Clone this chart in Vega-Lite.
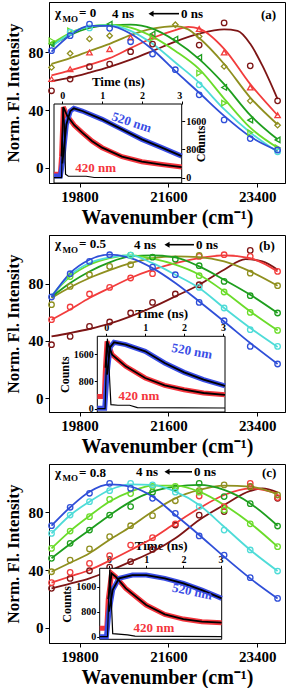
{
"$schema": "https://vega.github.io/schema/vega-lite/v6.json",
"padding": {"left": 3, "top": 1, "right": 1, "bottom": 0},
"background": "white",
"spacing": 6,
"resolve": {"scale": {"x": "independent", "y": "independent", "color": "independent", "shape": "independent"}},
"config": {
  "view": {"stroke": "black", "strokeWidth": 1},
  "axis": {"labelFont": "Liberation Serif", "titleFont": "Liberation Serif", "labelFontWeight": "bold", "titleFontWeight": "bold", "labelColor": "black", "titleColor": "black", "domainColor": "black", "tickColor": "black", "grid": false},
  "text": {"font": "Liberation Serif", "fontWeight": "bold"}
},
"datasets": {
"lines": [
{"p":"a","s":"s1","w":19231,"v":60},{"p":"a","s":"s1","w":19608,"v":62.5},{"p":"a","s":"s1","w":20000,"v":66},{"p":"a","s":"s1","w":20408,"v":70},{"p":"a","s":"s1","w":20833,"v":75},{"p":"a","s":"s1","w":21277,"v":81},{"p":"a","s":"s1","w":21739,"v":87.5},{"p":"a","s":"s1","w":22222,"v":93},{"p":"a","s":"s1","w":22727,"v":96},{"p":"a","s":"s1","w":23000,"v":95},{"p":"a","s":"s1","w":23256,"v":86},{"p":"a","s":"s1","w":23500,"v":71},{"p":"a","s":"s1","w":23810,"v":47.6},
{"p":"a","s":"s2","w":19231,"v":64},{"p":"a","s":"s2","w":19608,"v":67.5},{"p":"a","s":"s2","w":20000,"v":71.5},{"p":"a","s":"s2","w":20408,"v":76},{"p":"a","s":"s2","w":20833,"v":83},{"p":"a","s":"s2","w":21277,"v":90},{"p":"a","s":"s2","w":21739,"v":95.5},{"p":"a","s":"s2","w":22000,"v":97.8},{"p":"a","s":"s2","w":22222,"v":96.5},{"p":"a","s":"s2","w":22727,"v":82.5},{"p":"a","s":"s2","w":23256,"v":58},{"p":"a","s":"s2","w":23810,"v":36.4},
{"p":"a","s":"s3","w":19231,"v":72},{"p":"a","s":"s3","w":19608,"v":76},{"p":"a","s":"s3","w":20000,"v":81},{"p":"a","s":"s3","w":20408,"v":86},{"p":"a","s":"s3","w":20833,"v":92},{"p":"a","s":"s3","w":21277,"v":96.5},{"p":"a","s":"s3","w":21739,"v":98.3},{"p":"a","s":"s3","w":22000,"v":96},{"p":"a","s":"s3","w":22222,"v":90},{"p":"a","s":"s3","w":22727,"v":72},{"p":"a","s":"s3","w":23256,"v":48.7},{"p":"a","s":"s3","w":23810,"v":30},
{"p":"a","s":"s4","w":19231,"v":85},{"p":"a","s":"s4","w":19608,"v":92},{"p":"a","s":"s4","w":20000,"v":97},{"p":"a","s":"s4","w":20408,"v":99},{"p":"a","s":"s4","w":20833,"v":99.3},{"p":"a","s":"s4","w":21277,"v":96.5},{"p":"a","s":"s4","w":21739,"v":88},{"p":"a","s":"s4","w":22222,"v":75.4},{"p":"a","s":"s4","w":22727,"v":58},{"p":"a","s":"s4","w":23256,"v":36.5},{"p":"a","s":"s4","w":23810,"v":19.7},
{"p":"a","s":"s5","w":19231,"v":86},{"p":"a","s":"s5","w":19608,"v":93.5},{"p":"a","s":"s5","w":20000,"v":98},{"p":"a","s":"s5","w":20408,"v":99.3},{"p":"a","s":"s5","w":20833,"v":97.3},{"p":"a","s":"s5","w":21277,"v":91},{"p":"a","s":"s5","w":21739,"v":81},{"p":"a","s":"s5","w":22222,"v":68.4},{"p":"a","s":"s5","w":22727,"v":48},{"p":"a","s":"s5","w":23256,"v":27.8},{"p":"a","s":"s5","w":23810,"v":13.9},
{"p":"a","s":"s6","w":19231,"v":84},{"p":"a","s":"s6","w":19608,"v":93},{"p":"a","s":"s6","w":20000,"v":98},{"p":"a","s":"s6","w":20408,"v":99},{"p":"a","s":"s6","w":20833,"v":95},{"p":"a","s":"s6","w":21277,"v":86},{"p":"a","s":"s6","w":21739,"v":73},{"p":"a","s":"s6","w":22222,"v":59},{"p":"a","s":"s6","w":22727,"v":40.6},{"p":"a","s":"s6","w":23256,"v":24.4},{"p":"a","s":"s6","w":23810,"v":10.9},
{"p":"a","s":"s7","w":19231,"v":80.5},{"p":"a","s":"s7","w":19608,"v":92},{"p":"a","s":"s7","w":20000,"v":98.5},{"p":"a","s":"s7","w":20408,"v":98.5},{"p":"a","s":"s7","w":20833,"v":93},{"p":"a","s":"s7","w":21277,"v":82},{"p":"a","s":"s7","w":21739,"v":67},{"p":"a","s":"s7","w":22222,"v":52},{"p":"a","s":"s7","w":22727,"v":36},{"p":"a","s":"s7","w":23256,"v":21.6},{"p":"a","s":"s7","w":23810,"v":11.9},

{"p":"b","s":"s1","w":19231,"v":43.1},{"p":"b","s":"s1","w":19608,"v":45.5},{"p":"b","s":"s1","w":20000,"v":48.3},{"p":"b","s":"s1","w":20408,"v":52},{"p":"b","s":"s1","w":20833,"v":57.1},{"p":"b","s":"s1","w":21277,"v":63.5},{"p":"b","s":"s1","w":21739,"v":71.1},{"p":"b","s":"s1","w":22222,"v":79.3},{"p":"b","s":"s1","w":22727,"v":89.8},{"p":"b","s":"s1","w":23163,"v":97.2},{"p":"b","s":"s1","w":23500,"v":95.6},{"p":"b","s":"s1","w":23810,"v":89.8},
{"p":"b","s":"s2","w":19231,"v":54.8},{"p":"b","s":"s2","w":19608,"v":62},{"p":"b","s":"s2","w":20000,"v":70},{"p":"b","s":"s2","w":20408,"v":77},{"p":"b","s":"s2","w":20833,"v":84},{"p":"b","s":"s2","w":21277,"v":89.8},{"p":"b","s":"s2","w":21739,"v":94.4},{"p":"b","s":"s2","w":22222,"v":97.9},{"p":"b","s":"s2","w":22727,"v":99.8},{"p":"b","s":"s2","w":23256,"v":97.9},{"p":"b","s":"s2","w":23810,"v":88.6},
{"p":"b","s":"s3","w":19231,"v":70},{"p":"b","s":"s3","w":19608,"v":77.5},{"p":"b","s":"s3","w":20000,"v":84},{"p":"b","s":"s3","w":20408,"v":89.5},{"p":"b","s":"s3","w":20833,"v":94.4},{"p":"b","s":"s3","w":21277,"v":97.9},{"p":"b","s":"s3","w":21739,"v":99.1},{"p":"b","s":"s3","w":22222,"v":98.6},{"p":"b","s":"s3","w":22727,"v":95.6},{"p":"b","s":"s3","w":23256,"v":88.6},{"p":"b","s":"s3","w":23810,"v":78.6},
{"p":"b","s":"s4","w":19231,"v":70.7},{"p":"b","s":"s4","w":19608,"v":80.5},{"p":"b","s":"s4","w":20000,"v":88.6},{"p":"b","s":"s4","w":20408,"v":95},{"p":"b","s":"s4","w":20833,"v":99.1},{"p":"b","s":"s4","w":21277,"v":99.8},{"p":"b","s":"s4","w":21739,"v":98.4},{"p":"b","s":"s4","w":22222,"v":92.1},{"p":"b","s":"s4","w":22727,"v":82.8},{"p":"b","s":"s4","w":23256,"v":72.3},{"p":"b","s":"s4","w":23810,"v":59.5},
{"p":"b","s":"s5","w":19231,"v":71.5},{"p":"b","s":"s5","w":19608,"v":85},{"p":"b","s":"s5","w":20000,"v":93.3},{"p":"b","s":"s5","w":20408,"v":98},{"p":"b","s":"s5","w":20833,"v":99.8},{"p":"b","s":"s5","w":21277,"v":97.5},{"p":"b","s":"s5","w":21739,"v":93.3},{"p":"b","s":"s5","w":22222,"v":86.3},{"p":"b","s":"s5","w":22727,"v":74.6},{"p":"b","s":"s5","w":23256,"v":60.6},{"p":"b","s":"s5","w":23810,"v":47.3},
{"p":"b","s":"s6","w":19231,"v":71.5},{"p":"b","s":"s6","w":19608,"v":86},{"p":"b","s":"s6","w":20000,"v":94.5},{"p":"b","s":"s6","w":20408,"v":98.5},{"p":"b","s":"s6","w":20833,"v":99.8},{"p":"b","s":"s6","w":21277,"v":94.4},{"p":"b","s":"s6","w":21739,"v":86.3},{"p":"b","s":"s6","w":22222,"v":77},{"p":"b","s":"s6","w":22727,"v":63},{"p":"b","s":"s6","w":23256,"v":49},{"p":"b","s":"s6","w":23810,"v":35.7},
{"p":"b","s":"s7","w":19231,"v":70.7},{"p":"b","s":"s7","w":19608,"v":87.4},{"p":"b","s":"s7","w":20000,"v":96.8},{"p":"b","s":"s7","w":20408,"v":100.3},{"p":"b","s":"s7","w":20833,"v":97.9},{"p":"b","s":"s7","w":21277,"v":90.9},{"p":"b","s":"s7","w":21739,"v":80.5},{"p":"b","s":"s7","w":22222,"v":67.6},{"p":"b","s":"s7","w":22727,"v":53.6},{"p":"b","s":"s7","w":23256,"v":38.5},{"p":"b","s":"s7","w":23810,"v":23.8},

{"p":"c","s":"s1","w":19231,"v":27.3},{"p":"c","s":"s1","w":19608,"v":30.5},{"p":"c","s":"s1","w":20000,"v":34.2},{"p":"c","s":"s1","w":20408,"v":39.5},{"p":"c","s":"s1","w":20833,"v":45.8},{"p":"c","s":"s1","w":21277,"v":52.7},{"p":"c","s":"s1","w":21739,"v":62},{"p":"c","s":"s1","w":22222,"v":74.7},{"p":"c","s":"s1","w":22727,"v":85.1},{"p":"c","s":"s1","w":23256,"v":94.8},{"p":"c","s":"s1","w":23500,"v":96.6},{"p":"c","s":"s1","w":23810,"v":93.9},
{"p":"c","s":"s2","w":19231,"v":31.2},{"p":"c","s":"s2","w":19608,"v":35.5},{"p":"c","s":"s2","w":20000,"v":40},{"p":"c","s":"s2","w":20408,"v":46.5},{"p":"c","s":"s2","w":20833,"v":53.9},{"p":"c","s":"s2","w":21277,"v":62},{"p":"c","s":"s2","w":21739,"v":72.4},{"p":"c","s":"s2","w":22222,"v":82.8},{"p":"c","s":"s2","w":22727,"v":92},{"p":"c","s":"s2","w":23256,"v":96.6},{"p":"c","s":"s2","w":23810,"v":93.2},
{"p":"c","s":"s3","w":19231,"v":38.8},{"p":"c","s":"s3","w":19608,"v":45},{"p":"c","s":"s3","w":20000,"v":51.6},{"p":"c","s":"s3","w":20408,"v":61},{"p":"c","s":"s3","w":20833,"v":70},{"p":"c","s":"s3","w":21277,"v":80.5},{"p":"c","s":"s3","w":21739,"v":89.7},{"p":"c","s":"s3","w":22222,"v":95.5},{"p":"c","s":"s3","w":22727,"v":98.5},{"p":"c","s":"s3","w":23256,"v":97.8},{"p":"c","s":"s3","w":23810,"v":92.5},
{"p":"c","s":"s4","w":19231,"v":48.1},{"p":"c","s":"s4","w":19608,"v":58},{"p":"c","s":"s4","w":20000,"v":67.7},{"p":"c","s":"s4","w":20408,"v":78},{"p":"c","s":"s4","w":20833,"v":87.4},{"p":"c","s":"s4","w":21277,"v":94.3},{"p":"c","s":"s4","w":21739,"v":97.8},{"p":"c","s":"s4","w":22222,"v":99},{"p":"c","s":"s4","w":22727,"v":95.5},{"p":"c","s":"s4","w":23256,"v":86.2},{"p":"c","s":"s4","w":23810,"v":70.7},
{"p":"c","s":"s5","w":19231,"v":55},{"p":"c","s":"s5","w":19608,"v":67},{"p":"c","s":"s5","w":20000,"v":77.5},{"p":"c","s":"s5","w":20408,"v":87.5},{"p":"c","s":"s5","w":20833,"v":94.3},{"p":"c","s":"s5","w":21277,"v":98.5},{"p":"c","s":"s5","w":21739,"v":98.5},{"p":"c","s":"s5","w":22222,"v":94.3},{"p":"c","s":"s5","w":22727,"v":85.1},{"p":"c","s":"s5","w":23256,"v":72.4},{"p":"c","s":"s5","w":23810,"v":56.2},
{"p":"c","s":"s6","w":19231,"v":65.4},{"p":"c","s":"s6","w":19608,"v":78},{"p":"c","s":"s6","w":20000,"v":87.4},{"p":"c","s":"s6","w":20408,"v":95.5},{"p":"c","s":"s6","w":20833,"v":99.4},{"p":"c","s":"s6","w":21277,"v":99},{"p":"c","s":"s6","w":21739,"v":94.3},{"p":"c","s":"s6","w":22222,"v":85.1},{"p":"c","s":"s6","w":22727,"v":70},{"p":"c","s":"s6","w":23256,"v":53.9},{"p":"c","s":"s6","w":23810,"v":39.3},
{"p":"c","s":"s7","w":19231,"v":70.7},{"p":"c","s":"s7","w":19608,"v":83.5},{"p":"c","s":"s7","w":20000,"v":94.3},{"p":"c","s":"s7","w":20408,"v":99.4},{"p":"c","s":"s7","w":20833,"v":97.8},{"p":"c","s":"s7","w":21277,"v":90.9},{"p":"c","s":"s7","w":21739,"v":78.1},{"p":"c","s":"s7","w":22222,"v":64.3},{"p":"c","s":"s7","w":22727,"v":49.2},{"p":"c","s":"s7","w":23256,"v":34.2},{"p":"c","s":"s7","w":23810,"v":20.3}
],
"pts": [
{"p":"a","s":"s1","w":19231,"v":53.4},{"p":"a","s":"s1","w":19608,"v":61.5},{"p":"a","s":"s1","w":20000,"v":70.1},{"p":"a","s":"s1","w":20408,"v":71.9},{"p":"a","s":"s1","w":20833,"v":80.5},{"p":"a","s":"s1","w":21277,"v":85.8},{"p":"a","s":"s1","w":22222,"v":85.1},{"p":"a","s":"s1","w":22727,"v":100.5},{"p":"a","s":"s1","w":23256,"v":70.7},{"p":"a","s":"s1","w":23810,"v":46.4},
{"p":"a","s":"s2","w":19231,"v":61.5},{"p":"a","s":"s2","w":19608,"v":68.4},{"p":"a","s":"s2","w":20000,"v":80},{"p":"a","s":"s2","w":20408,"v":82.3},{"p":"a","s":"s2","w":20833,"v":90.4},{"p":"a","s":"s2","w":21277,"v":91},{"p":"a","s":"s2","w":22222,"v":96.3},{"p":"a","s":"s2","w":22727,"v":80},{"p":"a","s":"s2","w":23256,"v":55.7},{"p":"a","s":"s2","w":23810,"v":36.4},
{"p":"a","s":"s3","w":19231,"v":69.6},{"p":"a","s":"s3","w":19608,"v":79.3},{"p":"a","s":"s3","w":20000,"v":89.4},{"p":"a","s":"s3","w":20408,"v":91.6},{"p":"a","s":"s3","w":21739,"v":99.2},{"p":"a","s":"s3","w":22222,"v":91.1},{"p":"a","s":"s3","w":22727,"v":70.3},{"p":"a","s":"s3","w":23256,"v":46.4},{"p":"a","s":"s3","w":23810,"v":29.5},
{"p":"a","s":"s4","w":19231,"v":86},{"p":"a","s":"s4","w":20408,"v":99.7},{"p":"a","s":"s4","w":21277,"v":92.8},{"p":"a","s":"s4","w":21739,"v":89.3},{"p":"a","s":"s4","w":22222,"v":76.5},{"p":"a","s":"s4","w":22727,"v":55.7},{"p":"a","s":"s4","w":23256,"v":33},{"p":"a","s":"s4","w":23810,"v":19.3},
{"p":"a","s":"s5","w":19231,"v":88.1},{"p":"a","s":"s5","w":19608,"v":95},{"p":"a","s":"s5","w":21277,"v":90},{"p":"a","s":"s5","w":22222,"v":65.7},{"p":"a","s":"s5","w":22727,"v":44.8},{"p":"a","s":"s5","w":23256,"v":24.4},{"p":"a","s":"s5","w":23810,"v":13.9},
{"p":"a","s":"s6","w":19608,"v":94},{"p":"a","s":"s6","w":20000,"v":97},{"p":"a","s":"s6","w":22222,"v":57.5},{"p":"a","s":"s6","w":23810,"v":11},
{"p":"a","s":"s7","w":19231,"v":81.2},{"p":"a","s":"s7","w":19608,"v":91.6},{"p":"a","s":"s7","w":20000,"v":99.7},{"p":"a","s":"s7","w":20408,"v":96.7},{"p":"a","s":"s7","w":20833,"v":87.4},{"p":"a","s":"s7","w":21277,"v":78.9},{"p":"a","s":"s7","w":21739,"v":68},{"p":"a","s":"s7","w":22222,"v":50.6},{"p":"a","s":"s7","w":22727,"v":33.2},{"p":"a","s":"s7","w":23256,"v":20.2},{"p":"a","s":"s7","w":23810,"v":12.3},

{"p":"b","s":"s1","w":19231,"v":37.3},{"p":"b","s":"s1","w":19608,"v":43.1},{"p":"b","s":"s1","w":20000,"v":50.1},{"p":"b","s":"s1","w":20408,"v":53.2},{"p":"b","s":"s1","w":20833,"v":59.5},{"p":"b","s":"s1","w":21277,"v":66.9},{"p":"b","s":"s1","w":21739,"v":72.8},{"p":"b","s":"s1","w":22222,"v":79.3},{"p":"b","s":"s1","w":23256,"v":103.3},
{"p":"b","s":"s2","w":19231,"v":54.8},{"p":"b","s":"s2","w":19608,"v":63.7},{"p":"b","s":"s2","w":20000,"v":72.8},{"p":"b","s":"s2","w":20408,"v":77.4},{"p":"b","s":"s2","w":20833,"v":84},{"p":"b","s":"s2","w":21277,"v":87},{"p":"b","s":"s2","w":22222,"v":99.1},{"p":"b","s":"s2","w":22727,"v":100.3},{"p":"b","s":"s2","w":23256,"v":99.1},{"p":"b","s":"s2","w":23810,"v":88.6},
{"p":"b","s":"s3","w":19231,"v":65.3},{"p":"b","s":"s3","w":19608,"v":78.1},{"p":"b","s":"s3","w":20000,"v":86.3},{"p":"b","s":"s3","w":20408,"v":92.1},{"p":"b","s":"s3","w":20833,"v":93.3},{"p":"b","s":"s3","w":22222,"v":99.8},{"p":"b","s":"s3","w":23256,"v":87.4},{"p":"b","s":"s3","w":23810,"v":78.6},
{"p":"b","s":"s4","w":21277,"v":98.6},{"p":"b","s":"s4","w":21739,"v":97.2},{"p":"b","s":"s4","w":22222,"v":92.6},{"p":"b","s":"s4","w":22727,"v":81.6},{"p":"b","s":"s4","w":23256,"v":71.6},{"p":"b","s":"s4","w":23810,"v":59.5},
{"p":"b","s":"s5","w":19608,"v":85},{"p":"b","s":"s5","w":20833,"v":100},{"p":"b","s":"s5","w":22222,"v":85.6},{"p":"b","s":"s5","w":22727,"v":74.2},{"p":"b","s":"s5","w":23256,"v":59.9},{"p":"b","s":"s5","w":23810,"v":47.3},
{"p":"b","s":"s6","w":20833,"v":100},{"p":"b","s":"s6","w":22222,"v":77.4},{"p":"b","s":"s6","w":22727,"v":63},{"p":"b","s":"s6","w":23256,"v":47.8},{"p":"b","s":"s6","w":23810,"v":36.1},
{"p":"b","s":"s7","w":19231,"v":70.7},{"p":"b","s":"s7","w":19608,"v":87},{"p":"b","s":"s7","w":20000,"v":95.6},{"p":"b","s":"s7","w":20408,"v":100.3},{"p":"b","s":"s7","w":21277,"v":91.6},{"p":"b","s":"s7","w":21739,"v":86.3},{"p":"b","s":"s7","w":22222,"v":66.9},{"p":"b","s":"s7","w":22727,"v":54.1},{"p":"b","s":"s7","w":23256,"v":36.1},{"p":"b","s":"s7","w":23810,"v":23.8},

{"p":"c","s":"s1","w":19231,"v":27.3},{"p":"c","s":"s1","w":19608,"v":34.2},{"p":"c","s":"s1","w":20000,"v":39.5},{"p":"c","s":"s1","w":20408,"v":42},{"p":"c","s":"s1","w":20833,"v":45.8},{"p":"c","s":"s1","w":21277,"v":54.3},{"p":"c","s":"s1","w":21739,"v":71.2},{"p":"c","s":"s1","w":22222,"v":78},{"p":"c","s":"s1","w":22727,"v":80.5},{"p":"c","s":"s1","w":23256,"v":97.8},{"p":"c","s":"s1","w":23810,"v":89.7},
{"p":"c","s":"s2","w":19231,"v":31.2},{"p":"c","s":"s2","w":19608,"v":38.4},{"p":"c","s":"s2","w":20000,"v":44.6},{"p":"c","s":"s2","w":20408,"v":50},{"p":"c","s":"s2","w":20833,"v":57.3},{"p":"c","s":"s2","w":21277,"v":62.4},{"p":"c","s":"s2","w":21739,"v":72},{"p":"c","s":"s2","w":22222,"v":91.3},{"p":"c","s":"s2","w":22727,"v":84},{"p":"c","s":"s2","w":23256,"v":100.1},{"p":"c","s":"s2","w":23810,"v":90.2},
{"p":"c","s":"s3","w":19231,"v":38.8},{"p":"c","s":"s3","w":19608,"v":46.9},{"p":"c","s":"s3","w":20000,"v":54.6},{"p":"c","s":"s3","w":20408,"v":63.1},{"p":"c","s":"s3","w":20833,"v":70.7},{"p":"c","s":"s3","w":21277,"v":77.7},{"p":"c","s":"s3","w":21739,"v":88},{"p":"c","s":"s3","w":22222,"v":95},{"p":"c","s":"s3","w":22727,"v":99},{"p":"c","s":"s3","w":23256,"v":97.8},{"p":"c","s":"s3","w":23810,"v":92},
{"p":"c","s":"s4","w":19231,"v":48.1},{"p":"c","s":"s4","w":19608,"v":58.5},{"p":"c","s":"s4","w":20000,"v":67.7},{"p":"c","s":"s4","w":20408,"v":78.1},{"p":"c","s":"s4","w":20833,"v":84},{"p":"c","s":"s4","w":21277,"v":94},{"p":"c","s":"s4","w":21739,"v":97},{"p":"c","s":"s4","w":22222,"v":100.1},{"p":"c","s":"s4","w":22727,"v":90.9},{"p":"c","s":"s4","w":23256,"v":86},{"p":"c","s":"s4","w":23810,"v":70.5},
{"p":"c","s":"s5","w":19231,"v":55},{"p":"c","s":"s5","w":19608,"v":67},{"p":"c","s":"s5","w":20000,"v":77},{"p":"c","s":"s5","w":20408,"v":89},{"p":"c","s":"s5","w":20833,"v":93},{"p":"c","s":"s5","w":21277,"v":98},{"p":"c","s":"s5","w":21739,"v":98},{"p":"c","s":"s5","w":22222,"v":94},{"p":"c","s":"s5","w":22727,"v":81.6},{"p":"c","s":"s5","w":23256,"v":72},{"p":"c","s":"s5","w":23810,"v":56.2},
{"p":"c","s":"s6","w":19231,"v":65.4},{"p":"c","s":"s6","w":19608,"v":78.1},{"p":"c","s":"s6","w":20000,"v":87.4},{"p":"c","s":"s6","w":20408,"v":95},{"p":"c","s":"s6","w":20833,"v":100.1},{"p":"c","s":"s6","w":21277,"v":99},{"p":"c","s":"s6","w":21739,"v":94},{"p":"c","s":"s6","w":22222,"v":83.9},{"p":"c","s":"s6","w":22727,"v":67.7},{"p":"c","s":"s6","w":23256,"v":53.9},{"p":"c","s":"s6","w":23810,"v":39.3},
{"p":"c","s":"s7","w":19231,"v":70.7},{"p":"c","s":"s7","w":19608,"v":83.5},{"p":"c","s":"s7","w":20000,"v":93.2},{"p":"c","s":"s7","w":20408,"v":100.1},{"p":"c","s":"s7","w":20833,"v":96.6},{"p":"c","s":"s7","w":21277,"v":89.7},{"p":"c","s":"s7","w":21739,"v":79.3},{"p":"c","s":"s7","w":22222,"v":63.6},{"p":"c","s":"s7","w":22727,"v":50.4},{"p":"c","s":"s7","w":23256,"v":34.7},{"p":"c","s":"s7","w":23810,"v":20.3}
],
"ins": [
{"p":"a","s":"420","t":-0.21,"c":94},{"p":"a","s":"420","t":-0.05,"c":94},{"p":"a","s":"420","t":-0.02,"c":600},{"p":"a","s":"420","t":0.025,"c":1995},{"p":"a","s":"420","t":0.125,"c":1741},{"p":"a","s":"420","t":0.3,"c":1480},{"p":"a","s":"420","t":0.5,"c":1270},{"p":"a","s":"420","t":0.75,"c":1030},{"p":"a","s":"420","t":1.0,"c":847},{"p":"a","s":"420","t":1.5,"c":593},{"p":"a","s":"420","t":2.0,"c":452},{"p":"a","s":"420","t":2.5,"c":370},{"p":"a","s":"420","t":3.0,"c":300},
{"p":"a","s":"520","t":-0.21,"c":47},{"p":"a","s":"520","t":-0.05,"c":47},{"p":"a","s":"520","t":0.0,"c":400},{"p":"a","s":"520","t":0.1,"c":1500},{"p":"a","s":"520","t":0.2,"c":1880},{"p":"a","s":"520","t":0.29,"c":1957},{"p":"a","s":"520","t":0.5,"c":1882},{"p":"a","s":"520","t":1.0,"c":1647},{"p":"a","s":"520","t":1.5,"c":1364},{"p":"a","s":"520","t":2.0,"c":1082},{"p":"a","s":"520","t":2.5,"c":847},{"p":"a","s":"520","t":3.0,"c":610},
{"p":"a","s":"irf","t":-0.21,"c":0},{"p":"a","s":"irf","t":-0.02,"c":0},{"p":"a","s":"irf","t":0.0,"c":1000},{"p":"a","s":"irf","t":0.02,"c":1990},{"p":"a","s":"irf","t":0.05,"c":1500},{"p":"a","s":"irf","t":0.08,"c":100},{"p":"a","s":"irf","t":0.15,"c":40},{"p":"a","s":"irf","t":0.6,"c":40},{"p":"a","s":"irf","t":0.8,"c":5},{"p":"a","s":"irf","t":3.0,"c":0},
{"p":"b","s":"420","t":-0.23,"c":360},{"p":"b","s":"420","t":-0.05,"c":360},{"p":"b","s":"420","t":-0.02,"c":1200},{"p":"b","s":"420","t":0.02,"c":1970},{"p":"b","s":"420","t":0.15,"c":1581},{"p":"b","s":"420","t":0.5,"c":1240},{"p":"b","s":"420","t":1.0,"c":898},{"p":"b","s":"420","t":1.5,"c":683},{"p":"b","s":"420","t":2.0,"c":556},{"p":"b","s":"420","t":2.5,"c":459},{"p":"b","s":"420","t":3.05,"c":405},
{"p":"b","s":"520","t":-0.23,"c":10},{"p":"b","s":"520","t":-0.04,"c":10},{"p":"b","s":"520","t":0.02,"c":1000},{"p":"b","s":"520","t":0.1,"c":1800},{"p":"b","s":"520","t":0.2,"c":1942},{"p":"b","s":"520","t":0.5,"c":1874},{"p":"b","s":"520","t":1.0,"c":1679},{"p":"b","s":"520","t":1.5,"c":1337},{"p":"b","s":"520","t":2.0,"c":1064},{"p":"b","s":"520","t":2.5,"c":849},{"p":"b","s":"520","t":3.05,"c":670},
{"p":"b","s":"irf","t":-0.23,"c":0},{"p":"b","s":"irf","t":-0.03,"c":0},{"p":"b","s":"irf","t":0.0,"c":1200},{"p":"b","s":"irf","t":0.03,"c":2050},{"p":"b","s":"irf","t":0.08,"c":1000},{"p":"b","s":"irf","t":0.12,"c":120},{"p":"b","s":"irf","t":0.3,"c":100},{"p":"b","s":"irf","t":0.6,"c":100},{"p":"b","s":"irf","t":0.8,"c":30},{"p":"b","s":"irf","t":3.05,"c":20},
{"p":"c","s":"420","t":-0.25,"c":267},{"p":"c","s":"420","t":-0.06,"c":267},{"p":"c","s":"420","t":-0.02,"c":1200},{"p":"c","s":"420","t":0.07,"c":2027},{"p":"c","s":"420","t":0.18,"c":1920},{"p":"c","s":"420","t":0.45,"c":1547},{"p":"c","s":"420","t":1.0,"c":1013},{"p":"c","s":"420","t":1.5,"c":715},{"p":"c","s":"420","t":2.0,"c":565},{"p":"c","s":"420","t":2.5,"c":480},{"p":"c","s":"420","t":3.03,"c":448},
{"p":"c","s":"520","t":-0.25,"c":0},{"p":"c","s":"520","t":-0.07,"c":0},{"p":"c","s":"520","t":0.0,"c":800},{"p":"c","s":"520","t":0.1,"c":1500},{"p":"c","s":"520","t":0.27,"c":1867},{"p":"c","s":"520","t":0.63,"c":1973},{"p":"c","s":"520","t":1.0,"c":1973},{"p":"c","s":"520","t":1.5,"c":1867},{"p":"c","s":"520","t":2.0,"c":1707},{"p":"c","s":"520","t":2.5,"c":1493},{"p":"c","s":"520","t":3.03,"c":1227},
{"p":"c","s":"irf","t":-0.25,"c":0},{"p":"c","s":"irf","t":-0.04,"c":0},{"p":"c","s":"irf","t":-0.01,"c":1200},{"p":"c","s":"irf","t":0.02,"c":2150},{"p":"c","s":"irf","t":0.06,"c":1200},{"p":"c","s":"irf","t":0.1,"c":100},{"p":"c","s":"irf","t":0.5,"c":60},{"p":"c","s":"irf","t":0.7,"c":20},{"p":"c","s":"irf","t":3.03,"c":0}
],
"box": [
{"p":"a","t":-0.21,"t2":3.0,"c":-150,"c2":2080},
{"p":"b","t":-0.23,"t2":3.05,"c":-97,"c2":2119},
{"p":"c","t":-0.25,"t2":3.03,"c":-83,"c2":2189}
],
"ilab": [
{"p":"a","s":"520","tx":"520 nm","t":1.74,"c":1560},{"p":"a","s":"420","tx":"420 nm","t":0.84,"c":271},
{"p":"b","s":"520","tx":"520 nm","t":2.2,"c":1679},{"p":"b","s":"420","tx":"420 nm","t":0.84,"c":360},
{"p":"c","s":"520","tx":"520 nm","t":2.24,"c":1440},{"p":"c","s":"420","tx":"420 nm","t":1.21,"c":269}
],
"txt": [
{"p":"a","k":"big","tx":"χ","w":19302,"v":107.6},{"p":"a","k":"sub","tx":"MO","w":19453,"v":103.5},{"p":"a","k":"big","tx":"= 0","w":19787,"v":107.6},{"p":"a","k":"big","tx":"4 ns","w":20456,"v":107},{"p":"a","k":"big","tx":"0 ns","w":21853,"v":107},{"p":"a","k":"big","tx":"(a)","w":23473,"v":105.8},
{"p":"b","k":"big","tx":"χ","w":19302,"v":107.8},{"p":"b","k":"sub","tx":"MO","w":19453,"v":103.6},{"p":"b","k":"big","tx":"= 0.5","w":19787,"v":107.8},{"p":"b","k":"big","tx":"4 ns","w":20901,"v":107.3},{"p":"b","k":"big","tx":"0 ns","w":22157,"v":107.3},{"p":"b","k":"big","tx":"(b)","w":23433,"v":106.4},
{"p":"c","k":"big","tx":"χ","w":19302,"v":107.6},{"p":"c","k":"sub","tx":"MO","w":19453,"v":103.8},{"p":"c","k":"big","tx":"= 0.8","w":19787,"v":107.6},{"p":"c","k":"big","tx":"4 ns","w":20942,"v":108},{"p":"c","k":"big","tx":"0 ns","w":22116,"v":108},{"p":"c","k":"big","tx":"(c)","w":23493,"v":107}
],
"arr": [
{"p":"a","w":21246,"w2":21813,"v":106.9},
{"p":"b","w":21570,"w2":22116,"v":107.3},
{"p":"c","w":21570,"w2":22076,"v":108.1}
]
},
"vconcat": [
{
 "width": 236, "height": 181,
 "resolve": {"scale": {"x": "independent", "y": "independent", "color": "independent"}, "axis": {"x": "independent", "y": "independent"}},
 "layer": [
  {"layer": [
   {"data": {"name": "lines"}, "transform": [{"filter": "datum.p=='a'"}],
    "mark": {"type": "line", "interpolate": "monotone", "strokeWidth": 1.8},
    "encoding": {
     "x": {"field": "w", "type": "quantitative", "title": "Wavenumber (cm⁻¹)", "scale": {"domain": [19180, 23960], "nice": false, "zero": false}, "axis": {"values": [19800, 21600, 23400], "format": "d", "tickSize": 4, "labelFontSize": 15, "titleFontSize": 20, "titlePadding": 3, "labelPadding": 2}},
     "y": {"field": "v", "type": "quantitative", "title": "Norm. Fl. Intensity", "scale": {"domain": [-10.6, 115], "nice": false, "zero": false}, "axis": {"values": [0, 40, 80], "tickSize": 4, "labelFontSize": 15, "titleFontSize": 17, "titlePadding": 6, "labelPadding": 2}},
     "color": {"field": "s", "type": "nominal", "scale": {"domain": ["s1","s2","s3","s4","s5","s6","s7"], "range": ["#7d1515","#f23c3c","#8f8f1f","#1e9e1e","#6bdc2a","#4fdcd8","#2f4fd8"]}, "legend": null}
    }},
   {"data": {"name": "pts"}, "transform": [{"filter": "datum.p=='a'"}],
    "mark": {"type": "point", "filled": false, "size": 30, "strokeWidth": 1.3, "opacity": 1},
    "encoding": {
     "x": {"field": "w", "type": "quantitative"},
     "y": {"field": "v", "type": "quantitative"},
     "color": {"field": "s", "type": "nominal", "legend": null},
     "shape": {"field": "s", "type": "nominal", "scale": {"domain": ["s1","s2","s3","s4","s5","s6","s7"], "range": ["circle","triangle-up","diamond","triangle-left","triangle-right","circle","circle"]}, "legend": null}
    }},
   {"data": {"name": "txt"}, "transform": [{"filter": "datum.p=='a' && datum.k=='big'"}],
    "mark": {"type": "text", "align": "left", "baseline": "middle", "fontSize": 13, "color": "black"},
    "encoding": {"x": {"field": "w", "type": "quantitative"}, "y": {"field": "v", "type": "quantitative"}, "text": {"field": "tx"}}},
   {"data": {"name": "txt"}, "transform": [{"filter": "datum.p=='a' && datum.k=='sub'"}],
    "mark": {"type": "text", "align": "left", "baseline": "middle", "fontSize": 9, "color": "black"},
    "encoding": {"x": {"field": "w", "type": "quantitative"}, "y": {"field": "v", "type": "quantitative"}, "text": {"field": "tx"}}},
   {"data": {"name": "arr"}, "transform": [{"filter": "datum.p=='a'"}],
    "mark": {"type": "rule", "strokeWidth": 1.6, "color": "black"},
    "encoding": {"x": {"field": "w", "type": "quantitative"}, "x2": {"field": "w2"}, "y": {"field": "v", "type": "quantitative"}}},
   {"data": {"name": "arr"}, "transform": [{"filter": "datum.p=='a'"}],
    "mark": {"type": "point", "shape": "triangle-left", "filled": true, "size": 35, "color": "black", "opacity": 1},
    "encoding": {"x": {"field": "w", "type": "quantitative"}, "y": {"field": "v", "type": "quantitative"}}}
  ]},
  {"layer": [
   {"data": {"name": "box"}, "transform": [{"filter": "datum.p=='a'"}],
    "mark": {"type": "rect", "fill": "white", "stroke": "black", "strokeWidth": 1},
    "encoding": {
     "x": {"field": "t", "type": "quantitative", "title": "Time (ns)", "scale": {"domain": [-0.21, 3.0], "range": [5, 132.7], "nice": false, "zero": false}, "axis": {"orient": "top", "offset": -102, "values": [0, 1, 2, 3], "format": "d", "tickSize": 3, "labelFontSize": 10, "labelPadding": 1, "titleFontSize": 13, "titlePadding": 2, "domain": false}},
     "x2": {"field": "t2"},
     "y": {"field": "c", "type": "quantitative", "title": "Counts", "scale": {"domain": [-150, 2080], "range": [181, 102], "nice": false, "zero": false}, "axis": {"orient": "right", "offset": -103.3, "values": [0, 800, 1600], "format": "d", "tickSize": 3, "labelFontSize": 10, "labelPadding": 1, "titleFontSize": 12, "titlePadding": 2, "titleAngle": 270, "domain": false}},
     "y2": {"field": "c2"}
    }},
   {"data": {"name": "ins"}, "transform": [{"filter": "datum.p=='a' && datum.s!='irf'"}],
    "mark": {"type": "line", "strokeWidth": 5},
    "encoding": {"x": {"field": "t", "type": "quantitative"}, "y": {"field": "c", "type": "quantitative"}, "color": {"field": "s", "type": "nominal", "scale": {"domain": ["520", "420"], "range": ["#3a4de6", "#f4343c"]}, "legend": null}}},
   {"data": {"name": "ins"}, "transform": [{"filter": "datum.p=='a' && datum.s!='irf' && datum.t>=-0.02"}],
    "mark": {"type": "line", "strokeWidth": 1.8, "color": "black"},
    "encoding": {"x": {"field": "t", "type": "quantitative"}, "y": {"field": "c", "type": "quantitative"}, "detail": {"field": "s"}}},
   {"data": {"name": "ins"}, "transform": [{"filter": "datum.p=='a' && datum.s=='irf'"}],
    "mark": {"type": "line", "strokeWidth": 1.2, "color": "black"},
    "encoding": {"x": {"field": "t", "type": "quantitative"}, "y": {"field": "c", "type": "quantitative"}}},
   {"data": {"name": "ilab"}, "transform": [{"filter": "datum.p=='a' && datum.s=='520'"}],
    "mark": {"type": "text", "fontSize": 13, "align": "center", "baseline": "middle", "angle": 18, "color": "#3a4de6"},
    "encoding": {"x": {"field": "t", "type": "quantitative"}, "y": {"field": "c", "type": "quantitative"}, "text": {"field": "tx"}}},
   {"data": {"name": "ilab"}, "transform": [{"filter": "datum.p=='a' && datum.s=='420'"}],
    "mark": {"type": "text", "fontSize": 13, "align": "center", "baseline": "middle", "color": "#f4343c"},
    "encoding": {"x": {"field": "t", "type": "quantitative"}, "y": {"field": "c", "type": "quantitative"}, "text": {"field": "tx"}}}
  ]}
 ]
},
{
 "width": 236, "height": 177,
 "resolve": {"scale": {"x": "independent", "y": "independent", "color": "independent"}, "axis": {"x": "independent", "y": "independent"}},
 "layer": [
  {"layer": [
   {"data": {"name": "lines"}, "transform": [{"filter": "datum.p=='b'"}],
    "mark": {"type": "line", "interpolate": "monotone", "strokeWidth": 1.8},
    "encoding": {
     "x": {"field": "w", "type": "quantitative", "title": "Wavenumber (cm⁻¹)", "scale": {"domain": [19180, 23960], "nice": false, "zero": false}, "axis": {"values": [19800, 21600, 23400], "format": "d", "tickSize": 4, "labelFontSize": 15, "titleFontSize": 20, "titlePadding": 3, "labelPadding": 2}},
     "y": {"field": "v", "type": "quantitative", "title": "Norm. Fl. Intensity", "scale": {"domain": [-9.8, 114.1], "nice": false, "zero": false}, "axis": {"values": [0, 40, 80], "tickSize": 4, "labelFontSize": 15, "titleFontSize": 17, "titlePadding": 6, "labelPadding": 2}},
     "color": {"field": "s", "type": "nominal", "scale": {"domain": ["s1","s2","s3","s4","s5","s6","s7"], "range": ["#7d1515","#f23c3c","#8f8f1f","#1e9e1e","#6bdc2a","#4fdcd8","#2f4fd8"]}, "legend": null}
    }},
   {"data": {"name": "pts"}, "transform": [{"filter": "datum.p=='b'"}],
    "mark": {"type": "point", "shape": "circle", "filled": false, "size": 30, "strokeWidth": 1.3, "opacity": 1},
    "encoding": {"x": {"field": "w", "type": "quantitative"}, "y": {"field": "v", "type": "quantitative"}, "color": {"field": "s", "type": "nominal", "legend": null}}},
   {"data": {"name": "txt"}, "transform": [{"filter": "datum.p=='b' && datum.k=='big'"}],
    "mark": {"type": "text", "align": "left", "baseline": "middle", "fontSize": 13, "color": "black"},
    "encoding": {"x": {"field": "w", "type": "quantitative"}, "y": {"field": "v", "type": "quantitative"}, "text": {"field": "tx"}}},
   {"data": {"name": "txt"}, "transform": [{"filter": "datum.p=='b' && datum.k=='sub'"}],
    "mark": {"type": "text", "align": "left", "baseline": "middle", "fontSize": 9, "color": "black"},
    "encoding": {"x": {"field": "w", "type": "quantitative"}, "y": {"field": "v", "type": "quantitative"}, "text": {"field": "tx"}}},
   {"data": {"name": "arr"}, "transform": [{"filter": "datum.p=='b'"}],
    "mark": {"type": "rule", "strokeWidth": 1.6, "color": "black"},
    "encoding": {"x": {"field": "w", "type": "quantitative"}, "x2": {"field": "w2"}, "y": {"field": "v", "type": "quantitative"}}},
   {"data": {"name": "arr"}, "transform": [{"filter": "datum.p=='b'"}],
    "mark": {"type": "point", "shape": "triangle-left", "filled": true, "size": 35, "color": "black", "opacity": 1},
    "encoding": {"x": {"field": "w", "type": "quantitative"}, "y": {"field": "v", "type": "quantitative"}}}
  ]},
  {"layer": [
   {"data": {"name": "box"}, "transform": [{"filter": "datum.p=='b'"}],
    "mark": {"type": "rect", "fill": "white", "stroke": "black", "strokeWidth": 1},
    "encoding": {
     "x": {"field": "t", "type": "quantitative", "title": "Time (ns)", "scale": {"domain": [-0.23, 3.05], "range": [48.3, 176], "nice": false, "zero": false}, "axis": {"orient": "top", "offset": -101.3, "values": [0, 1, 2, 3], "format": "d", "tickSize": 3, "labelFontSize": 10, "labelPadding": 1, "titleFontSize": 13, "titlePadding": 2, "domain": false}},
     "x2": {"field": "t2"},
     "y": {"field": "c", "type": "quantitative", "title": "Counts", "scale": {"domain": [-97, 2119], "range": [177, 101.3], "nice": false, "zero": false}, "axis": {"orient": "left", "offset": -48.3, "values": [0, 800, 1600], "format": "d", "tickSize": 3, "labelFontSize": 10, "labelPadding": 1, "titleFontSize": 12, "titlePadding": 2, "domain": false}},
     "y2": {"field": "c2"}
    }},
   {"data": {"name": "ins"}, "transform": [{"filter": "datum.p=='b' && datum.s!='irf'"}],
    "mark": {"type": "line", "strokeWidth": 5},
    "encoding": {"x": {"field": "t", "type": "quantitative"}, "y": {"field": "c", "type": "quantitative"}, "color": {"field": "s", "type": "nominal", "scale": {"domain": ["520", "420"], "range": ["#3a4de6", "#f4343c"]}, "legend": null}}},
   {"data": {"name": "ins"}, "transform": [{"filter": "datum.p=='b' && datum.s!='irf' && datum.t>=-0.02"}],
    "mark": {"type": "line", "strokeWidth": 1.8, "color": "black"},
    "encoding": {"x": {"field": "t", "type": "quantitative"}, "y": {"field": "c", "type": "quantitative"}, "detail": {"field": "s"}}},
   {"data": {"name": "ins"}, "transform": [{"filter": "datum.p=='b' && datum.s=='irf'"}],
    "mark": {"type": "line", "strokeWidth": 1.2, "color": "black"},
    "encoding": {"x": {"field": "t", "type": "quantitative"}, "y": {"field": "c", "type": "quantitative"}}},
   {"data": {"name": "ilab"}, "transform": [{"filter": "datum.p=='b' && datum.s=='520'"}],
    "mark": {"type": "text", "fontSize": 13, "align": "center", "baseline": "middle", "angle": 10, "color": "#3a4de6"},
    "encoding": {"x": {"field": "t", "type": "quantitative"}, "y": {"field": "c", "type": "quantitative"}, "text": {"field": "tx"}}},
   {"data": {"name": "ilab"}, "transform": [{"filter": "datum.p=='b' && datum.s=='420'"}],
    "mark": {"type": "text", "fontSize": 13, "align": "center", "baseline": "middle", "color": "#f4343c"},
    "encoding": {"x": {"field": "t", "type": "quantitative"}, "y": {"field": "c", "type": "quantitative"}, "text": {"field": "tx"}}}
  ]}
 ]
},
{
 "width": 236, "height": 179,
 "resolve": {"scale": {"x": "independent", "y": "independent", "color": "independent"}, "axis": {"x": "independent", "y": "independent"}},
 "layer": [
  {"layer": [
   {"data": {"name": "lines"}, "transform": [{"filter": "datum.p=='c'"}],
    "mark": {"type": "line", "interpolate": "monotone", "strokeWidth": 1.8},
    "encoding": {
     "x": {"field": "w", "type": "quantitative", "title": "Wavenumber (cm⁻¹)", "scale": {"domain": [19180, 23960], "nice": false, "zero": false}, "axis": {"values": [19800, 21600, 23400], "format": "d", "tickSize": 4, "labelFontSize": 15, "titleFontSize": 20, "titlePadding": 3, "labelPadding": 2}},
     "y": {"field": "v", "type": "quantitative", "title": "Norm. Fl. Intensity", "scale": {"domain": [-10.6, 113.5], "nice": false, "zero": false}, "axis": {"values": [0, 40, 80], "tickSize": 4, "labelFontSize": 15, "titleFontSize": 17, "titlePadding": 6, "labelPadding": 2}},
     "color": {"field": "s", "type": "nominal", "scale": {"domain": ["s1","s2","s3","s4","s5","s6","s7"], "range": ["#7d1515","#f23c3c","#8f8f1f","#1e9e1e","#6bdc2a","#4fdcd8","#2f4fd8"]}, "legend": null}
    }},
   {"data": {"name": "pts"}, "transform": [{"filter": "datum.p=='c'"}],
    "mark": {"type": "point", "shape": "circle", "filled": false, "size": 30, "strokeWidth": 1.3, "opacity": 1},
    "encoding": {"x": {"field": "w", "type": "quantitative"}, "y": {"field": "v", "type": "quantitative"}, "color": {"field": "s", "type": "nominal", "legend": null}}},
   {"data": {"name": "txt"}, "transform": [{"filter": "datum.p=='c' && datum.k=='big'"}],
    "mark": {"type": "text", "align": "left", "baseline": "middle", "fontSize": 13, "color": "black"},
    "encoding": {"x": {"field": "w", "type": "quantitative"}, "y": {"field": "v", "type": "quantitative"}, "text": {"field": "tx"}}},
   {"data": {"name": "txt"}, "transform": [{"filter": "datum.p=='c' && datum.k=='sub'"}],
    "mark": {"type": "text", "align": "left", "baseline": "middle", "fontSize": 9, "color": "black"},
    "encoding": {"x": {"field": "w", "type": "quantitative"}, "y": {"field": "v", "type": "quantitative"}, "text": {"field": "tx"}}},
   {"data": {"name": "arr"}, "transform": [{"filter": "datum.p=='c'"}],
    "mark": {"type": "rule", "strokeWidth": 1.6, "color": "black"},
    "encoding": {"x": {"field": "w", "type": "quantitative"}, "x2": {"field": "w2"}, "y": {"field": "v", "type": "quantitative"}}},
   {"data": {"name": "arr"}, "transform": [{"filter": "datum.p=='c'"}],
    "mark": {"type": "point", "shape": "triangle-left", "filled": true, "size": 35, "color": "black", "opacity": 1},
    "encoding": {"x": {"field": "w", "type": "quantitative"}, "y": {"field": "v", "type": "quantitative"}}}
  ]},
  {"layer": [
   {"data": {"name": "box"}, "transform": [{"filter": "datum.p=='c'"}],
    "mark": {"type": "rect", "fill": "white", "stroke": "black", "strokeWidth": 1},
    "encoding": {
     "x": {"field": "t", "type": "quantitative", "title": "Time (ns)", "scale": {"domain": [-0.25, 3.03], "range": [50.7, 172.7], "nice": false, "zero": false}, "axis": {"orient": "top", "offset": -104.3, "values": [0, 1, 2, 3], "format": "d", "tickSize": 3, "labelFontSize": 10, "labelPadding": 1, "titleFontSize": 13, "titlePadding": 2, "domain": false}},
     "x2": {"field": "t2"},
     "y": {"field": "c", "type": "quantitative", "title": "Counts", "scale": {"domain": [-83, 2189], "range": [175.3, 104.3], "nice": false, "zero": false}, "axis": {"orient": "left", "offset": -50.7, "values": [0, 800, 1600], "format": "d", "tickSize": 3, "labelFontSize": 10, "labelPadding": 1, "titleFontSize": 12, "titlePadding": 2, "domain": false}},
     "y2": {"field": "c2"}
    }},
   {"data": {"name": "ins"}, "transform": [{"filter": "datum.p=='c' && datum.s!='irf'"}],
    "mark": {"type": "line", "strokeWidth": 5},
    "encoding": {"x": {"field": "t", "type": "quantitative"}, "y": {"field": "c", "type": "quantitative"}, "color": {"field": "s", "type": "nominal", "scale": {"domain": ["520", "420"], "range": ["#3a4de6", "#f4343c"]}, "legend": null}}},
   {"data": {"name": "ins"}, "transform": [{"filter": "datum.p=='c' && datum.s!='irf' && datum.t>=-0.02"}],
    "mark": {"type": "line", "strokeWidth": 1.8, "color": "black"},
    "encoding": {"x": {"field": "t", "type": "quantitative"}, "y": {"field": "c", "type": "quantitative"}, "detail": {"field": "s"}}},
   {"data": {"name": "ins"}, "transform": [{"filter": "datum.p=='c' && datum.s=='irf'"}],
    "mark": {"type": "line", "strokeWidth": 1.2, "color": "black"},
    "encoding": {"x": {"field": "t", "type": "quantitative"}, "y": {"field": "c", "type": "quantitative"}}},
   {"data": {"name": "ilab"}, "transform": [{"filter": "datum.p=='c' && datum.s=='520'"}],
    "mark": {"type": "text", "fontSize": 13, "align": "center", "baseline": "middle", "angle": 12, "color": "#3a4de6"},
    "encoding": {"x": {"field": "t", "type": "quantitative"}, "y": {"field": "c", "type": "quantitative"}, "text": {"field": "tx"}}},
   {"data": {"name": "ilab"}, "transform": [{"filter": "datum.p=='c' && datum.s=='420'"}],
    "mark": {"type": "text", "fontSize": 13, "align": "center", "baseline": "middle", "color": "#f4343c"},
    "encoding": {"x": {"field": "t", "type": "quantitative"}, "y": {"field": "c", "type": "quantitative"}, "text": {"field": "tx"}}}
  ]}
 ]
}
]
}
